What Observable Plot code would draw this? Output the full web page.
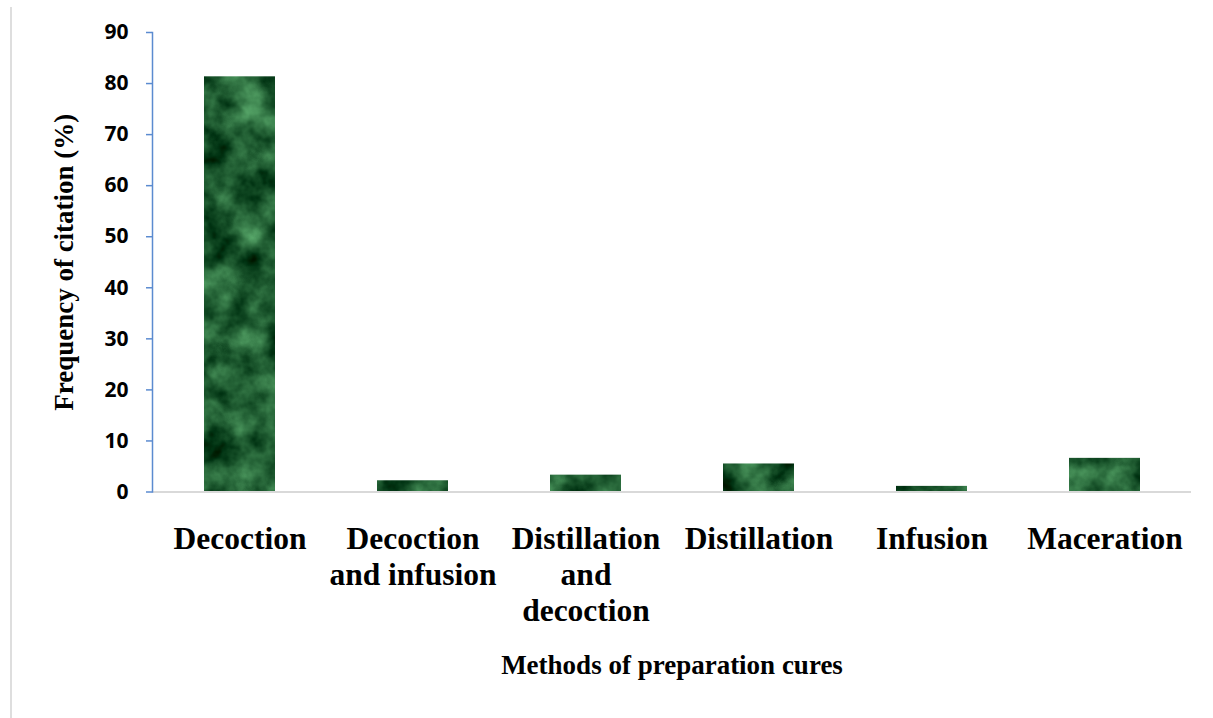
<!DOCTYPE html>
<html>
<head>
<meta charset="utf-8">
<script src="https://cdn.jsdelivr.net/npm/d3@7"></script>
<script src="https://cdn.jsdelivr.net/npm/@observablehq/plot@0.6"></script>
<style>
  html, body { margin: 0; padding: 0; background: #fff; }
  #wrap { position: relative; width: 1213px; height: 718px; overflow: hidden; }
  #border { position: absolute; left: 10px; top: 7px; width: 2px; height: 711px; background: #dedede; }
  #chart { position: absolute; left: 0; top: 0; }
</style>
</head>
<body>
<div id="wrap"><div id="border"></div><div id="chart"></div></div>
<script>
// Data
const categories = ["Decoction", "Decoction and infusion", "Distillation and decoction", "Distillation", "Infusion", "Maceration"];
const tickLabels = ["Decoction", "Decoction\nand infusion", "Distillation\nand\ndecoction", "Distillation", "Infusion", "Maceration"];
const values = [81.32, 2.20, 3.30, 5.49, 1.10, 6.59];
const yTicks = [0, 10, 20, 30, 40, 50, 60, 70, 80, 90];
const yTitle = "Frequency of citation (%)";
const xTitle = "Methods of preparation cures";

const data = categories.map((c, i) => ({category: c, value: values[i]}));
const labelOf = new Map(categories.map((c, i) => [c, tickLabels[i]]));

const serif = "'Liberation Serif', 'Times New Roman', serif";
const sans = "'Open Sans', 'Liberation Sans', sans-serif";

const chart = Plot.plot({
  width: 1213,
  height: 718,
  marginLeft: 152,
  marginRight: 22,
  marginTop: 32,
  marginBottom: 226.5,
  style: {background: "transparent", overflow: "visible"},
  x: {domain: categories, paddingInner: 0.59, paddingOuter: 0.295, label: null},
  y: {domain: [0, 90], label: null},
  marks: [
    Plot.barY(data, {x: "category", y: "value", fill: "#1d5531", imageFilter: "url(#marble)"}),
    Plot.ruleY([0], {stroke: "#d9d9d9", strokeWidth: 2}),
    Plot.frame({anchor: "left", stroke: "#5b8bd0", strokeWidth: 1.5}),
    Plot.axisY({ticks: yTicks, tickSize: 6, tickPadding: 18, stroke: "#5b8bd0", strokeWidth: 1.5, fill: "black",
      fontSize: 21, fontWeight: "bold", fontFamily: sans, label: null}),
    Plot.axisX({tickSize: 0, tickPadding: 31, tickFormat: d => labelOf.get(d), fontSize: 31.5, fontWeight: "bold",
      fontFamily: serif, lineHeight: 1.15, fill: "black", label: null}),
    Plot.text([yTitle], {text: d => d, frameAnchor: "left", dx: -88.5, rotate: -90, textAnchor: "middle",
      lineAnchor: "middle", fontSize: 27, fontWeight: "bold", fontFamily: serif, fill: "black"}),
    Plot.text([xTitle], {text: d => d, frameAnchor: "bottom", dy: 182, textAnchor: "middle", fontSize: 27,
      fontWeight: "bold", fontFamily: serif, fill: "black"})
  ]
});

d3.select(chart).insert("defs", ":first-child").html(`
  <filter id="marble" x="0" y="0" width="100%" height="100%" color-interpolation-filters="sRGB">
    <feTurbulence type="fractalNoise" baseFrequency="0.03" numOctaves="4" seed="7" result="noise"/>
    <feColorMatrix in="noise" type="matrix" values="
      0.6 0 0 0 -0.17
      0.8 0 0 0 -0.03
      0.6 0 0 0 -0.10
      0 0 0 0 1" result="col"/>
    <feComposite in="col" in2="SourceGraphic" operator="in"/>
  </filter>
`);

document.getElementById("chart").appendChild(chart);
</script>
</body>
</html>
